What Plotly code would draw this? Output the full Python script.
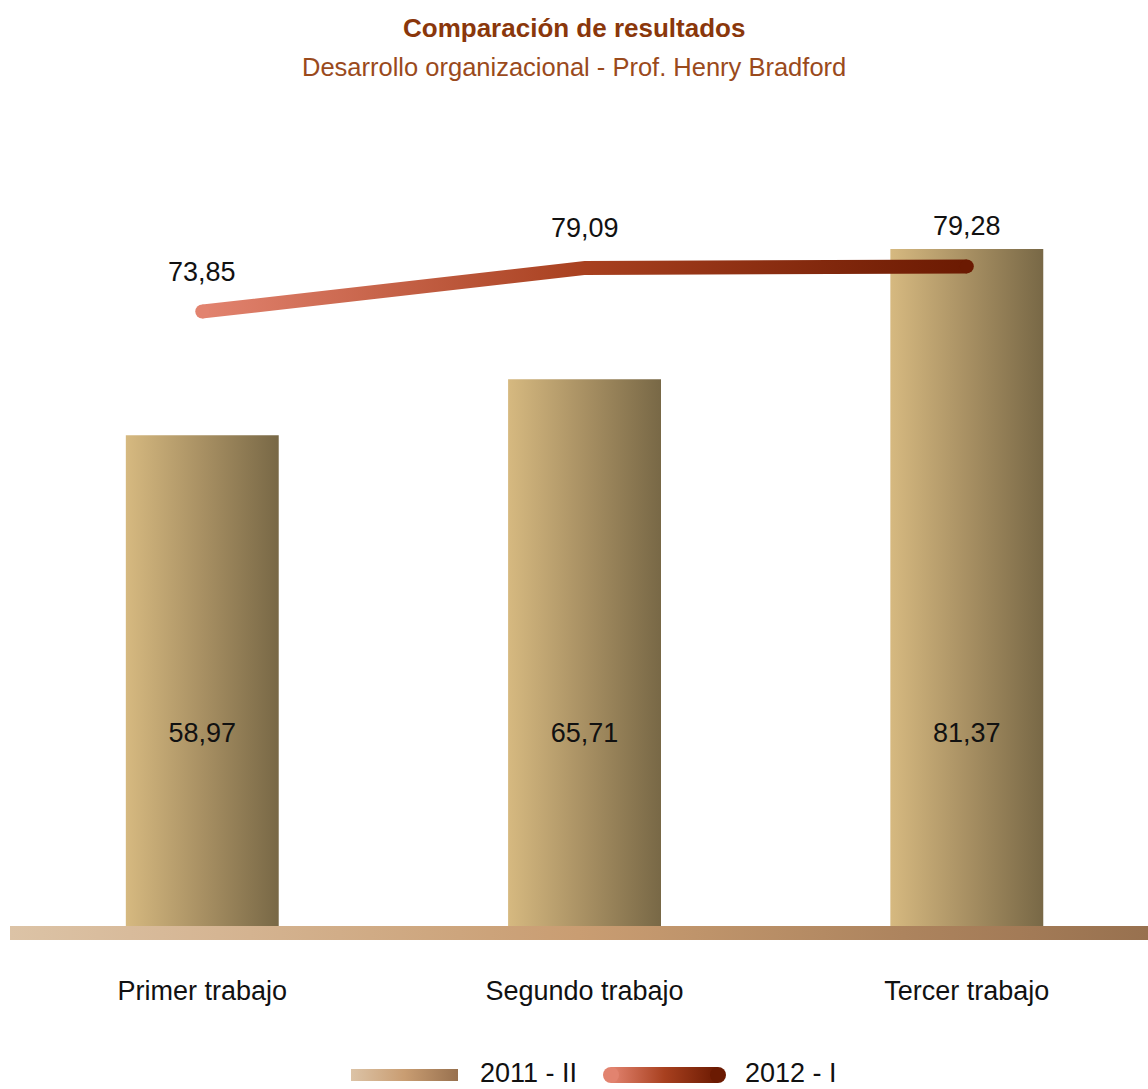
import plotly.graph_objects as go

categories = ["Primer trabajo", "Segundo trabajo", "Tercer trabajo"]
series_names = ["2011 - II", "2012 - I"]
bar_values = [58.97, 65.71, 81.37]      # 2011 - II
line_values = [73.85, 79.09, 79.28]     # 2012 - I
title_text = "Comparación de resultados"
subtitle_text = "Desarrollo organizacional - Prof. Henry Bradford"

FONT = "Liberation Sans, Arial, sans-serif"
W, H = 1148, 1089
PX_PER_UNIT = 8.32
BAR_SCALE = [[0, "#d6b980"], [0.5, "#a89063"], [1, "#786846"]]
BAND_SCALE = [[0, "#dcc3a6"], [0.5, "#c99d72"], [1, "#98714f"]]
LINE_SCALE = [[0, "#e2836f"], [0.5, "#a8401f"], [1, "#6b1a02"]]
TXT = "#111111"
FS = 27


def fmt(v):
    return f"{v:.2f}".replace(".", ",")


xs = list(range(len(categories)))
half_bar = 0.2
half_line = 7 / PX_PER_UNIT
band_depth = 14 / PX_PER_UNIT
x_range = [-0.503, 2.474]
t_margin = 120
base_px = 926
y_top = (base_px - t_margin) / PX_PER_UNIT
y_bottom = -band_depth
plot_h_main = (y_top - y_bottom) * PX_PER_UNIT
plot_h_total = H - t_margin
dom_bottom = (plot_h_total - plot_h_main) / plot_h_total


def paper_y(px):
    return (H - px) / plot_h_total


fig = go.Figure()

# baseline band
fig.add_trace(go.Scatter(
    x=[x_range[0], x_range[1], x_range[1], x_range[0]],
    y=[0, 0, y_bottom, y_bottom],
    fill="toself", mode="lines", line=dict(width=0),
    fillgradient=dict(type="horizontal", colorscale=BAND_SCALE),
    hoverinfo="skip", showlegend=False))

# bars (2011 - II)
for x, v in zip(xs, bar_values):
    fig.add_trace(go.Scatter(
        x=[x - half_bar, x + half_bar, x + half_bar, x - half_bar],
        y=[0, 0, v, v],
        fill="toself", mode="lines", line=dict(width=0),
        fillgradient=dict(type="horizontal", colorscale=BAR_SCALE),
        name=series_names[0], hoverinfo="skip", showlegend=False))

# bar labels
fig.add_trace(go.Scatter(
    x=xs, y=[(base_px - 735) / PX_PER_UNIT] * len(xs),
    mode="text", text=[fmt(v) for v in bar_values],
    textfont=dict(family=FONT, size=FS, color=TXT),
    hoverinfo="skip", showlegend=False))

# thick gradient line (2012 - I)
poly_x = xs + xs[::-1]
poly_y = [v + half_line for v in line_values] + [v - half_line for v in line_values[::-1]]
fig.add_trace(go.Scatter(
    x=poly_x, y=poly_y, fill="toself", mode="lines", line=dict(width=0),
    fillgradient=dict(type="horizontal", colorscale=LINE_SCALE),
    name=series_names[1], hoverinfo="skip", showlegend=False))
fig.add_trace(go.Scatter(
    x=[xs[0], xs[-1]], y=[line_values[0], line_values[-1]],
    mode="markers",
    marker=dict(size=14, color=[LINE_SCALE[0][1], LINE_SCALE[-1][1]], line=dict(width=0)),
    hoverinfo="skip", showlegend=False))

# line labels
for x, v in zip(xs, line_values):
    fig.add_annotation(x=x, y=v, yshift=40, text=fmt(v), showarrow=False,
                       font=dict(family=FONT, size=FS, color=TXT),
                       xref="x", yref="y")

# title & subtitle
fig.add_annotation(x=0.5, xref="paper", y=paper_y(28), yref="paper", yanchor="middle",
                   text=f"<b>{title_text}</b>", showarrow=False,
                   font=dict(family=FONT, size=26, color="#8a370b"))
fig.add_annotation(x=0.5, xref="paper", y=paper_y(67), yref="paper", yanchor="middle",
                   text=subtitle_text, showarrow=False,
                   font=dict(family=FONT, size=25.5, color="#9a4a1c"))

# custom legend (xaxis2/yaxis2 in pixel space)
leg_top, leg_bot = 1059, 1089
fig.add_trace(go.Scatter(
    x=[351, 458, 458, 351], y=[1069, 1069, 1081, 1081],
    fill="toself", mode="lines", line=dict(width=0),
    fillgradient=dict(type="horizontal", colorscale=BAND_SCALE),
    xaxis="x2", yaxis="y2", hoverinfo="skip", showlegend=False))
fig.add_trace(go.Scatter(
    x=[611, 718, 718, 611], y=[1067, 1067, 1083, 1083],
    fill="toself", mode="lines", line=dict(width=0),
    fillgradient=dict(type="horizontal", colorscale=LINE_SCALE),
    xaxis="x2", yaxis="y2", hoverinfo="skip", showlegend=False))
fig.add_trace(go.Scatter(
    x=[611, 718], y=[1075, 1075], mode="markers",
    marker=dict(size=16, color=[LINE_SCALE[0][1], LINE_SCALE[-1][1]], line=dict(width=0)),
    xaxis="x2", yaxis="y2", hoverinfo="skip", showlegend=False))
fig.add_trace(go.Scatter(
    x=[480, 745], y=[1075, 1075], mode="text", text=series_names,
    textposition="middle right",
    textfont=dict(family=FONT, size=FS, color=TXT),
    xaxis="x2", yaxis="y2", hoverinfo="skip", showlegend=False))

fig.update_layout(
    width=W, height=H,
    margin=dict(l=0, r=0, t=t_margin, b=0),
    paper_bgcolor="white", plot_bgcolor="white",
    showlegend=False,
    xaxis=dict(range=x_range, domain=[10 / W, 1], tickvals=xs, ticktext=categories,
               showgrid=False, zeroline=False, showline=False,
               ticks="outside", ticklen=27, tickcolor="rgba(0,0,0,0)",
               tickfont=dict(family=FONT, size=FS, color=TXT),
               fixedrange=True),
    yaxis=dict(range=[y_bottom, y_top], domain=[dom_bottom, 1], visible=False,
               fixedrange=True),
    xaxis2=dict(range=[0, W], domain=[0, 1], anchor="y2", visible=False),
    yaxis2=dict(range=[leg_bot, leg_top], domain=[0, (leg_bot - leg_top) / plot_h_total],
                anchor="x2", visible=False),
)

fig.write_html("out.html", config={"displayModeBar": False},
               post_script="document.body.style.margin='0';")
